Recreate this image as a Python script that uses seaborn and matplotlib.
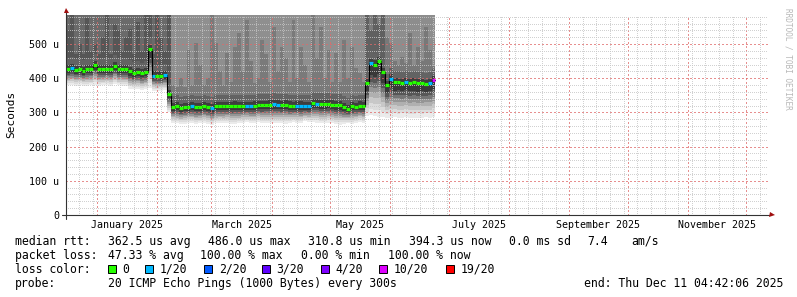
import numpy as np
import pandas as pd
import matplotlib
matplotlib.use("Agg")
import matplotlib.pyplot as plt
import matplotlib.dates as mdates
from matplotlib.ticker import MultipleLocator, NullFormatter
from matplotlib.patches import Rectangle
import matplotlib.transforms as mtrans
import seaborn as sns

sns.set_style("white")
plt.rcParams['font.family'] = ['DejaVu Sans Mono', 'DejaVu Sans']

# ---------------- data ----------------
START = "2024-12-16 04:42"
END = "2025-12-12 04:42"
BIN_DAYS = 2

median_us = [427, 430, 425, 426, 421, 426, 428, 438, 426, 427,
             427, 428, 436, 427, 428, 426, 420, 416, 419, 414,
             418, 486, 408, 408, 408, 410, 355, 316, 318, 313,
             316, 316, 319, 317, 316, 318, 316, 312, 318, 319,
             318, 319, 318, 320, 318, 319, 319, 318, 320, 322,
             321, 322, 323, 324, 323, 322, 323, 320, 319, 320,
             320, 319, 319, 328, 326, 325, 324, 325, 323, 322,
             322, 316, 311, 318, 317, 320, 319, 387, 445, 440,
             450, 418, 379, 399, 388, 390, 387, 389, 386, 388,
             385, 386, 384, 387, 394]

loss_idx = [0, 1, 0, 0, 0, 0, 0, 0, 0, 0,
            0, 0, 0, 0, 0, 0, 0, 0, 0, 0,
            0, 0, 1, 0, 0, 1, 0, 0, 0, 0,
            0, 0, 1, 0, 0, 0, 0, 1, 0, 0,
            0, 0, 0, 0, 0, 0, 1, 1, 0, 0,
            0, 0, 0, 1, 1, 0, 0, 0, 0, 1,
            1, 1, 1, 0, 1, 0, 0, 0, 0, 0,
            0, 0, 0, 0, 0, 0, 0, 0, 1, 0,
            0, 0, 0, 1, 0, 0, 0, 1, 0, 0,
            0, 0, 0, 1, 5]

smoke_low_us = [380, 379, 378, 380, 378, 377, 379, 381, 378, 379,
                380, 378, 382, 379, 378, 377, 370, 368, 369, 366,
                368, 372, 364, 362, 363, 365, 300, 270, 268, 266,
                267, 270, 268, 265, 268, 270, 267, 264, 268, 269,
                268, 270, 267, 266, 268, 270, 271, 269, 268, 272,
                270, 270, 268, 269, 270, 268, 267, 269, 271, 270,
                268, 274, 272, 271, 270, 268, 269, 270, 268, 266,
                264, 266, 268, 267, 270, 272, 268, 290, 292, 290,
                288, 286, 285, 284, 286, 283, 285, 287, 284, 283,
                285, 284, 286, 285, 287]

smoke_top_us = [540, 585, 470, 500, 470, 575, 480, 500, 470, 520,
                585, 470, 560, 540, 480, 520, 545, 470, 565, 480,
                585, 585, 470, 585, 520, 480, 585, 380, 375, 400,
                375, 482, 380, 502, 440, 380, 400, 585, 502, 420,
                380, 473, 390, 492, 531, 420, 570, 450, 385, 400,
                512, 470, 390, 551, 420, 492, 460, 390, 570, 400,
                492, 440, 390, 585, 460, 551, 400, 482, 390, 473,
                390, 512, 400, 492, 430, 414, 390, 585, 540, 585,
                560, 585, 521, 502, 450, 440, 463, 445, 531, 440,
                492, 450, 551, 482, 440]

seg_first_bin = [0, 27, 77, 82]
seg_top_grey = ['#6a6a6a', '#8f8f8f', '#7c7c7c', '#8d8d8d']
seg_strip_grey = ['#565656', '#7a7a7a', '#606060', '#787878']

loss_labels = ["0", "1/20", "2/20", "3/20", "4/20", "10/20", "19/20"]
loss_colors = ["#26ff00", "#00b8ff", "#0059ff", "#5e00ff", "#7e00ff", "#dd00ff", "#ff0000"]
loss_box_x = [108, 145, 204, 262, 321, 379, 446]

y_ticks = [0, 100, 200, 300, 400, 500]
y_tick_labels = ["0", "100 u", "200 u", "300 u", "400 u", "500 u"]
Y_TOP = 585

month_labels = ["January 2025", "March 2025", "May 2025", "July 2025",
                "September 2025", "November 2025"]
month_label_starts = ["2025-01-01", "2025-03-01", "2025-05-01", "2025-07-01",
                      "2025-09-01", "2025-11-01"]
month_label_ends = ["2025-02-01", "2025-04-01", "2025-06-01", "2025-08-01",
                    "2025-10-01", "2025-12-01"]

legend_row_titles = ["median rtt:", "packet loss:", "loss color:", "probe:"]
rtt_items = ["362.5 us avg", "486.0 us max", "310.8 us min", "394.3 us now",
             "0.0 ms sd", "7.4", "am/s"]
rtt_x = [108, 208, 308.5, 409, 509, 587, 631]
loss_items = ["47.33 % avg", "100.00 % max", "0.00 % min", "100.00 % now"]
loss_x = [108, 200.5, 301, 388]
probe_text = "20 ICMP Echo Pings (1000 Bytes) every 300s"
end_text = "end: Thu Dec 11 04:42:06 2025"

# ---------------- figure ----------------
W, H = 797, 297
fig = plt.figure(figsize=(W / 100, H / 100), dpi=100)
fig.patch.set_facecolor('white')
ax = fig.add_axes([66 / W, 1 - 215 / H, 702 / W, 200 / H])
ax.set_facecolor('white')

n = len(median_us)
edges = mdates.date2num(pd.date_range(pd.Timestamp(START), periods=n + 1,
                                      freq=f"{BIN_DAYS}D").to_pydatetime())
m = np.array(median_us, float)
low = np.array(smoke_low_us, float)
top = np.array(smoke_top_us, float)


def ext(a):
    return np.append(a, a[-1])


# upper smoke: background per segment, then strips
seg_bounds = seg_first_bin + [n]
for s in range(len(seg_first_bin)):
    b0, b1 = seg_bounds[s], seg_bounds[s + 1]
    xs = edges[b0:b1 + 1]
    ms = ext(m[b0:b1])
    ax.fill_between(xs, ms, np.full_like(ms, Y_TOP), step='post',
                    color=seg_top_grey[s], lw=0, zorder=1)
    ax.fill_between(xs, ms, ext(top[b0:b1]), step='post',
                    color=seg_strip_grey[s], lw=0, zorder=1)

# inner upper bands
for off, col in [(32, '#636363'), (12, '#3e3e3e')]:
    ax.fill_between(edges, ext(m), ext(m + off), step='post', color=col,
                    lw=0, zorder=1)

# lower smoke gradient (outer -> inner)
low_fracs = [1.0, 0.88, 0.77, 0.66, 0.56, 0.46, 0.36, 0.24]
low_greys = ['#ebebeb', '#dcdcdc', '#c8c8c8', '#b0b0b0', '#959595',
             '#767676', '#575757', '#393939']
for f, col in zip(low_fracs, low_greys):
    ax.fill_between(edges, ext(m - f * (m - low)), ext(m), step='post',
                    color=col, lw=0, zorder=1)

# median: black step line + loss-coloured segments
sns.lineplot(x=edges, y=ext(m), drawstyle='steps-post', color='black',
             lw=0.8, ax=ax, estimator=None, legend=False, zorder=3)
ax.hlines(m, edges[:-1], edges[1:], colors=[loss_colors[k] for k in loss_idx],
          lw=2.3, zorder=4)

# axes limits / grid
ax.xaxis_date()
ax.set_xlim(mdates.date2num(pd.Timestamp(START).to_pydatetime()),
            mdates.date2num(pd.Timestamp(END).to_pydatetime()))
ax.set_ylim(0, Y_TOP)
ax.xaxis.set_major_locator(mdates.MonthLocator())
ax.xaxis.set_minor_locator(mdates.WeekdayLocator(byweekday=mdates.MO))
ax.xaxis.set_major_formatter(NullFormatter())
ax.set_yticks(y_ticks)
ax.set_yticklabels(y_tick_labels)
ax.yaxis.set_minor_locator(MultipleLocator(20))
ax.set_axisbelow(False)
ax.grid(which='minor', color='#c6c6c6', lw=0.72, ls=(0, (1, 2)), alpha=0.8,
        antialiased=False)
ax.grid(which='major', color='#e06a6a', lw=0.8, ls=(0, (1, 1.8)), alpha=0.75,
        antialiased=False)
for s in ax.spines.values():
    s.set_visible(False)
ax.tick_params(axis='both', which='major', length=3, width=0.7, color='#333333',
               direction='out', pad=2, labelsize=7.2, labelcolor='black')
ax.tick_params(axis='both', which='minor', length=1.5, width=0.7,
               color='#333333', direction='out')

# axis lines with arrows
ax.plot([-4 / 702, 1 + 1 / 702], [0, 0], transform=ax.transAxes, color='#333333',
        lw=0.8, clip_on=False, zorder=6)
ax.plot([0, 0], [-4 / 200, 1 + 3 / 200], transform=ax.transAxes, color='#333333',
        lw=0.8, clip_on=False, zorder=6)
ax.plot([1 + 4 / 702], [0], marker='>', ms=3.6, color='#a01010',
        transform=ax.transAxes, clip_on=False, zorder=7, mew=0)
ax.plot([0], [1 + 5 / 200], marker='^', ms=3.6, color='#a01010',
        transform=ax.transAxes, clip_on=False, zorder=7, mew=0)

# month labels centred on their month
blend = mtrans.blended_transform_factory(ax.transData, ax.transAxes)
for lab, a, b in zip(month_labels, month_label_starts, month_label_ends):
    xa = mdates.date2num(pd.Timestamp(a).to_pydatetime())
    xb = mdates.date2num(pd.Timestamp(b).to_pydatetime())
    ax.text((xa + xb) / 2, (215 - 228) / 200, lab, transform=blend,
            ha='center', va='baseline', fontsize=7.2, color='black')

# y-axis title and watermark
fig.text(11 / W, 1 - 114 / H, "Seconds", rotation=90, ha='center',
         va='center', fontsize=8, color='black')
fig.text(788 / W, 1 - 59 / H, "RRDTOOL / TOBI OETIKER", rotation=270,
         ha='center', va='center', fontsize=5.6, color='#b8b8b8')

# legend block
LFS = 8.3
baselines = [245, 259, 273, 287]


def ftext(x, yb, s, ha='left'):
    fig.text(x / W, 1 - yb / H, s, ha=ha, va='baseline', fontsize=LFS,
             color='black')


for t, yb in zip(legend_row_titles, baselines):
    ftext(15, yb, t)
for x, s in zip(rtt_x, rtt_items):
    ftext(x, baselines[0], s)
for x, s in zip(loss_x, loss_items):
    ftext(x, baselines[1], s)
for x, c, lab in zip(loss_box_x, loss_colors, loss_labels):
    fig.add_artist(Rectangle((x / W, 1 - 273 / H), 8 / W, 8 / H,
                             transform=fig.transFigure, facecolor=c,
                             edgecolor='black', lw=0.7))
    ftext(x + 14.7, baselines[2], lab)
ftext(108, baselines[3], probe_text)
ftext(783, baselines[3], end_text, ha='right')

fig.savefig("out.png", dpi=100, facecolor='white')
